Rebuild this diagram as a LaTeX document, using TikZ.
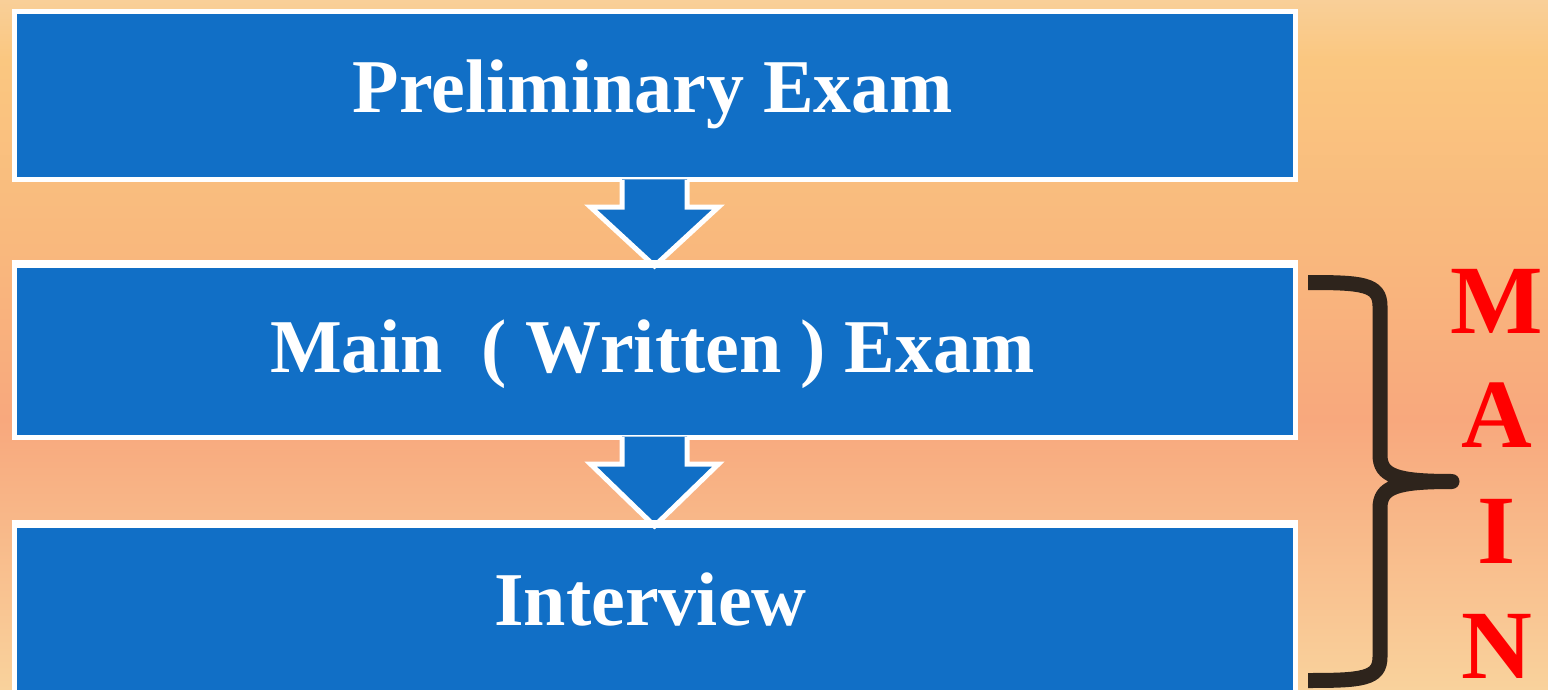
\documentclass[tikz,border=0pt]{standalone}
\usepackage{fontspec}
\setmainfont{Liberation Serif}
\usetikzlibrary{calc}
\definecolor{bgA}{RGB}{249,207,152}
\definecolor{bgB}{RGB}{250,199,128}
\definecolor{bgC}{RGB}{249,184,125}
\definecolor{bgD}{RGB}{248,168,125}
\definecolor{bgE}{RGB}{249,210,156}
\definecolor{boxblue}{RGB}{17,111,198}
\definecolor{bracecol}{RGB}{46,36,28}
\pgfdeclareverticalshading{bgshade}{100bp}{color(0bp)=(bgE); color(25bp)=(bgE); color(44.6bp)=(bgD); color(56.9bp)=(bgC); color(70.7bp)=(bgB); color(75bp)=(bgA); color(100bp)=(bgA)}
\tikzset{
  stagebox/.style={fill=boxblue, draw=white, line width=5, minimum width=1281, inner sep=0, anchor=north west},
  stagetext/.style={text=white, font=\bfseries\fontsize{76}{80}\selectfont, anchor=base, inner sep=0},
  mainletter/.style={text=red, font=\bfseries\fontsize{98}{100}\selectfont, anchor=base, inner sep=0},
  arrowfill/.style={fill=boxblue},
  arrowedge/.style={draw=white, line width=5, line join=miter},
}
\newcommand\stagearrow[2]{%
  \fill[arrowfill] ($(#1.south)+(-32.5,-3)$) -- ($(#1.south)+(-32.5,24.5)$) -- ($(#1.south)+(-64,24.5)$) -- ($(#2.north)+(0,3.5)$) -- ($(#1.south)+(64,24.5)$) -- ($(#1.south)+(32.5,24.5)$) -- ($(#1.south)+(32.5,-3)$) -- cycle;
  \draw[arrowedge] ($(#1.south)+(-32.5,-2.5)$) -- ($(#1.south)+(-32.5,24.5)$) -- ($(#1.south)+(-64,24.5)$) -- ($(#2.north)+(0,3.5)$) -- ($(#1.south)+(64,24.5)$) -- ($(#1.south)+(32.5,24.5)$) -- ($(#1.south)+(32.5,-2.5)$);
  \draw[draw=white, line width=5] (#2.north west) -- (#2.north east);
}
\begin{document}
\begin{tikzpicture}[x=1pt,y=-1pt]
\clip (0,0) rectangle (1548,690);
\useasboundingbox (0,0) rectangle (1548,690);
\shade[shading=bgshade] (0,0) rectangle (1548,690);
% boxes
\node[stagebox, minimum height=168] (b1) at (11.5,9.5) {};
\node[stagebox, minimum height=172] (b2) at (11.5,262.5) {};
\node[stagebox, minimum height=172] (b3) at (11.5,522.5) {};
% arrows
\stagearrow{b1}{b2}
\stagearrow{b2}{b3}
% texts
\node[stagetext] (t1) at (653,113) {Preliminary Exam};
\node[stagetext] (t2) at (652.5,372) {Main\ \ ( Written ) Exam};
\node[stagetext] (t3) at (650.5,625) {Interview};
% brace
\draw[bracecol, line width=15, line cap=butt, line join=round]
  (1308,282.5) .. controls (1362,282.5) and (1380,284) .. (1380,306)
  -- (1380,455) .. controls (1380,476) and (1396,481.5) .. (1452,481.5)
  .. controls (1396,481.5) and (1380,487) .. (1380,508)
  -- (1380,657) .. controls (1380,679) and (1362,680.5) .. (1308,680.5);
% letters
\node[mainletter] (m1) at (1497,333) {M};
\node[mainletter] (m2) at (1497,447) {A};
\node[mainletter] (m3) at (1497,563) {I};
\node[mainletter] (m4) at (1497,678) {N};
\end{tikzpicture}
\end{document}
